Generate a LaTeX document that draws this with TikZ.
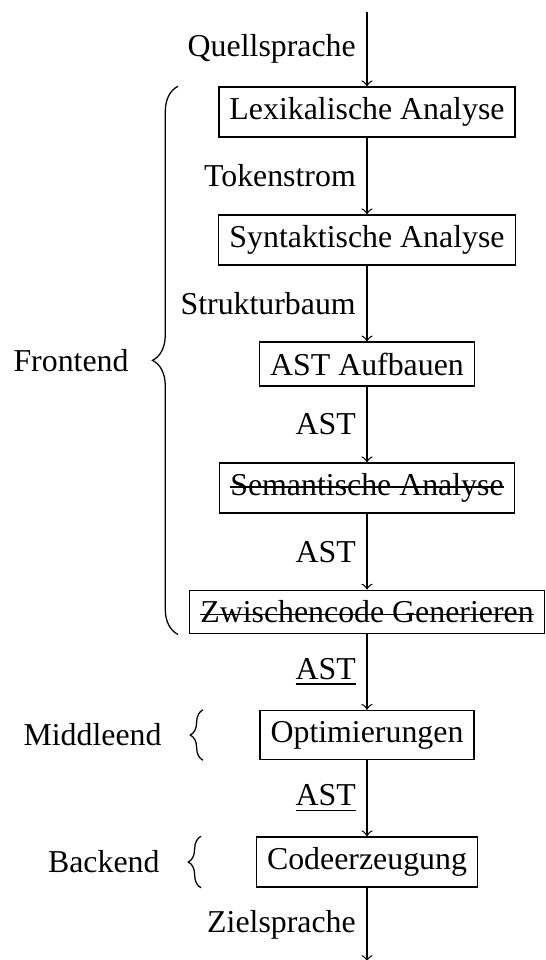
\documentclass[tikz,border=0pt]{standalone}
\usepackage{fontspec}
\setmainfont{Liberation Serif}
\usetikzlibrary{decorations.pathreplacing}
\newsavebox{\durchbox}
\newcommand{\durch}[1]{\sbox{\durchbox}{#1}\rlap{\rule[0.55ex]{\wd\durchbox}{0.4pt}}\usebox{\durchbox}}

\begin{document}
\begin{tikzpicture}[x=0.314pt, y=-0.314pt, >=to,
    phase/.style={draw, rectangle},
    klammer/.style={decorate, decoration={brace, amplitude=#1}}]
  \useasboundingbox (0, 0) rectangle (546, 960);
  \coordinate (quelle) at (367, 12);
  \coordinate (ziel) at (367, 961);
  \node[phase] (lex) at (367, 112) {Lexikalische Analyse};
  \node[phase] (syn) at (367, 240) {Syntaktische Analyse};
  \node[phase] (ast) at (367, 364) {AST Aufbauen};
  \node[phase] (sem) at (367, 488) {\durch{Semantische Analyse}};
  \node[phase] (zwi) at (367, 612) {\durch{Zwischencode Generieren}};
  \node[phase] (opt) at (367, 735) {Optimierungen};
  \node[phase] (gen) at (367, 862) {Codeerzeugung};
  \draw[->] (quelle) -- node[left] {Quellsprache} (lex);
  \draw[->] (lex) -- node[left] {Tokenstrom} (syn);
  \draw[->] (syn) -- node[left] {Strukturbaum} (ast);
  \draw[->] (ast) -- node[left] {AST} (sem);
  \draw[->] (sem) -- node[left] {AST} (zwi);
  \draw[->] (zwi) -- node[left] {\underline{AST}} (opt);
  \draw[->] (opt) -- node[left] {\underline{AST}} (gen);
  \draw[->] (gen) -- node[left] {Zielsprache} (ziel);
  % Klammern links
  \coordinate (fe) at (178, 0);
  \coordinate (me) at (203, 0);
  \coordinate (be) at (201, 0);
  \draw[klammer=8pt] (zwi.south -| fe) -- (lex.north -| fe)
    node[midway, left=12pt] (frontend) {Frontend};
  \draw[klammer=4pt] (opt.south -| me) -- (opt.north -| me)
    node[midway, left=9.5pt] (middleend) {Middleend};
  \draw[klammer=4pt] (gen.south -| be) -- (gen.north -| be)
    node[midway, left=9.5pt] (backend) {Backend};
\end{tikzpicture}
\end{document}
